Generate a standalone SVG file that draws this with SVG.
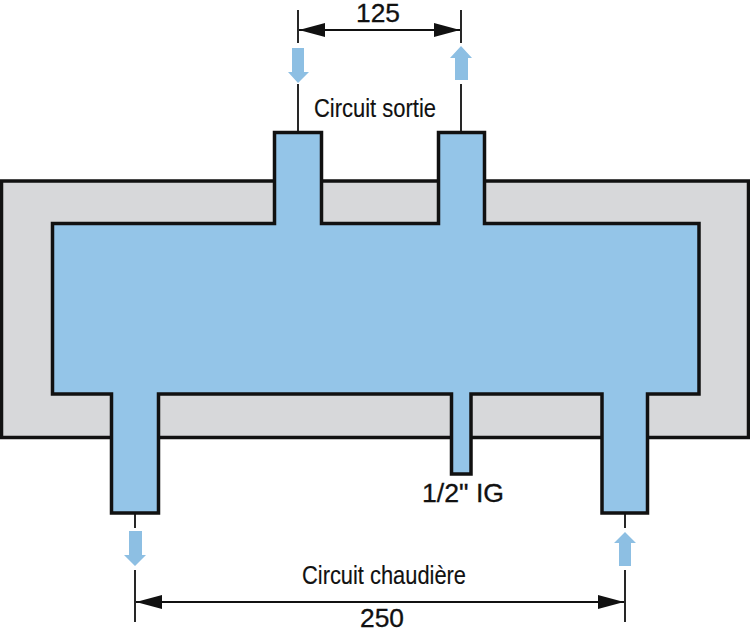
<svg xmlns="http://www.w3.org/2000/svg" width="750" height="633" viewBox="0 0 750 633">
<style>
text{font-family:"Liberation Sans",Arial,sans-serif;fill:#111;stroke:#111;stroke-width:.3}
.dim{font-size:25px}
.cond{font-size:26px;stroke-width:.15}
.ln{stroke:#111;stroke-width:1.8;fill:none}
.flow{fill:#8dbfe3}
</style>
<defs>
<marker id="ah" viewBox="0 0 26 14" refX="26" refY="7" markerWidth="26" markerHeight="14" markerUnits="userSpaceOnUse" orient="auto-start-reverse"><path d="M0 0L26 7L0 14Z" fill="#111"/></marker>
</defs>
<g id="housing"><rect x="1.500" y="181" width="747" height="256.500" fill="#d7d8da" stroke="#111" stroke-width="3.500"/></g>
<g id="chamber"><path d="M52.500 223.500H274.500V132.500H321.500V223.500H438.500V132.500H484.500V223.500H699V394H647.500V513H602V394H471V474H451.500V394H158.500V513H111.500V394H52.500Z" fill="#94c5e8" stroke="#111" stroke-width="3.500" stroke-linejoin="miter"/></g>
<g id="connectors">
<path class="ln" d="M298 10V43M298 84V131M461 10V43M461 84V131M135 514V528M135 570V622M625 514V528M625 570V622"/>
<line class="ln" x1="299" y1="30" x2="460" y2="30" marker-start="url(#ah)" marker-end="url(#ah)"/>
<line class="ln" x1="136" y1="602" x2="624" y2="602" marker-start="url(#ah)" marker-end="url(#ah)"/>
</g>
<g id="flow-out-left"><path class="flow" d="M292 48H304V72H309L298 83L288 72H292Z"/></g>
<g id="flow-out-right"><path class="flow" d="M455 80H468V58H472L461 46L450 58H455Z"/></g>
<g id="flow-boiler-left"><path class="flow" d="M129 531H142V555H146L135 566L124 555H129Z"/></g>
<g id="flow-boiler-right"><path class="flow" d="M619 566H631V543H636L625 532L614 543H619Z"/></g>
<g id="labels">
<text class="dim" x="356" y="22" textLength="44" lengthAdjust="spacingAndGlyphs">125</text>
<text class="cond" x="314" y="117" textLength="122" lengthAdjust="spacingAndGlyphs">Circuit sortie</text>
<text class="dim" x="422" y="502" textLength="82" lengthAdjust="spacingAndGlyphs">1/2" IG</text>
<text class="cond" x="302" y="584" textLength="164" lengthAdjust="spacingAndGlyphs">Circuit chaudière</text>
<text class="dim" x="360" y="627" textLength="44" lengthAdjust="spacingAndGlyphs">250</text>
</g>
</svg>
